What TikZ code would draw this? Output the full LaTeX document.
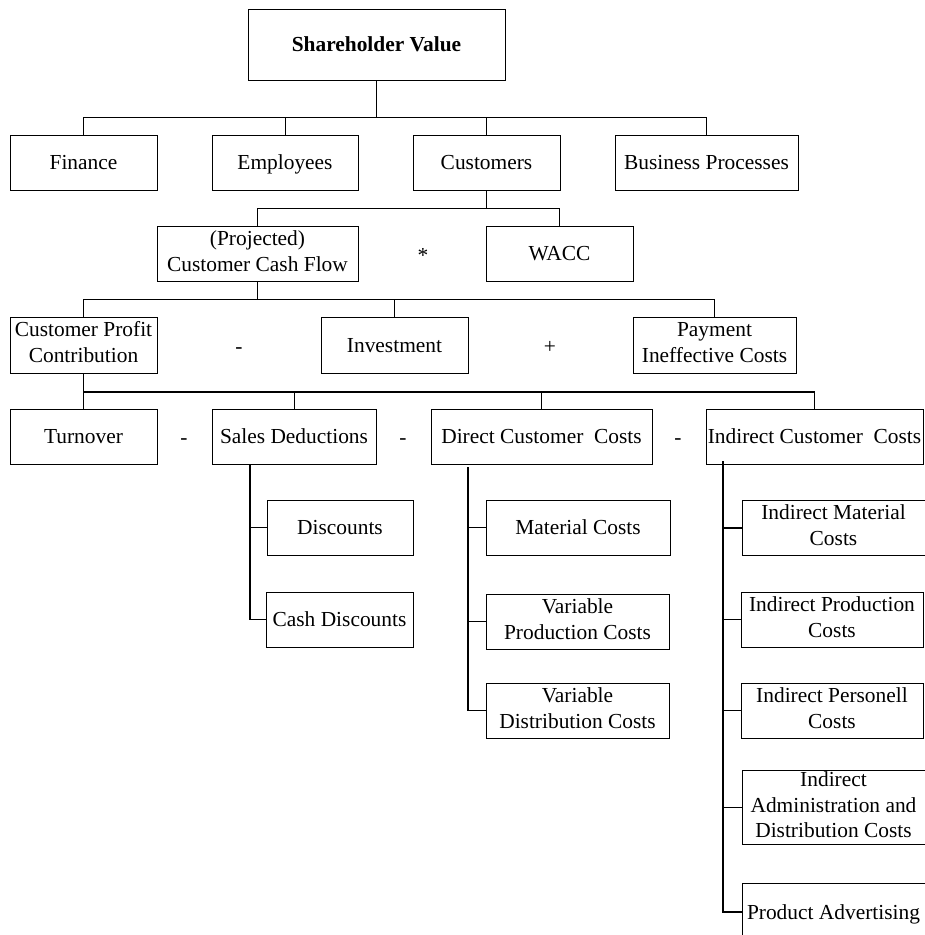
\documentclass[tikz,border=0pt]{standalone}
\usepackage{fontspec}
\setmainfont{Liberation Serif}
\newcommand{\bx}[7][box]{\node[#1, minimum width=#5pt-#3pt, minimum height=#6pt-#4pt] (#2) at ({(#3+#5)/2},{(#4+#6)/2}) {#7};}
\begin{document}
\begin{tikzpicture}[x=1pt,y=-1pt,
  txt/.style={inner sep=0pt, align=center, font=\fontsize{21.4}{25.7}\selectfont,
    execute at begin node=\rule{0pt}{19.5pt}, execute at end node=\rule[-5.5pt]{0pt}{5.5pt}},
  box/.style={txt, draw, line width=0.9pt},
  openbox/.style={txt},
  edge/.style={line width=0.9pt},
  stem/.style={line width=1.4pt},
  op/.style={txt}]
\useasboundingbox (0,0) rectangle (925,935);
\clip (0,0) rectangle (925,935);
% level 1-2
\bx{sv}{248}{9}{505}{80}{\textbf{Shareholder Value}}
\bx{fin}{10}{135}{157}{190}{Finance}
\bx{emp}{212}{135}{358}{190}{Employees}
\bx{cus}{413}{135}{560}{190}{Customers}
\bx{bp}{615}{135}{798}{190}{Business Processes}
% level 3
\bx{ccf}{157}{226}{358}{281}{(Projected)\\Customer Cash Flow}
\bx{wacc}{486}{226}{633}{281}{WACC}
% level 4
\bx{cpc}{10}{317}{157}{373}{Customer Profit\\Contribution}
\bx{inv}{321}{317}{468}{373}{Investment}
\bx{pay}{633}{317}{796}{373}{Payment\\Ineffective Costs}
% level 5
\bx{tur}{10}{409}{157}{464}{Turnover}
\bx{sd}{212}{409}{376}{464}{Sales Deductions}
\bx{dcc}{431}{409}{652}{464}{Direct Customer~ Costs}
\bx{icc}{706}{409}{923}{464}{Indirect Customer~ Costs}
% sub-children
\bx{disc}{267}{500}{413}{555}{Discounts}
\bx{cdisc}{266}{592}{413}{647}{Cash Discounts}
\bx{mat}{486}{500}{670}{555}{Material Costs}
\bx{vprod}{486}{594}{669}{649}{Variable\\Production Costs}
\bx{vdist}{486}{683}{669}{738}{Variable\\Distribution Costs}
\bx[openbox]{imat}{743}{501}{924}{555}{Indirect Material\\Costs}
\bx{iprod}{741}{592}{923}{647}{Indirect Production\\Costs}
\bx{ipers}{741}{683}{923}{738}{Indirect Personell\\Costs}
\bx[openbox]{iadm}{743}{771}{924}{844}{Indirect\\Administration and\\Distribution Costs}
\bx[openbox]{padv}{743}{884}{924}{940}{Product Advertising}
% open box borders (clipped at the right edge)
\draw[edge] ([xshift=10pt]imat.north east) -- (imat.north west) -- (imat.south west) -- ([xshift=10pt]imat.south east);
\draw[edge] ([xshift=10pt]iadm.north east) -- (iadm.north west) -- (iadm.south west) -- ([xshift=10pt]iadm.south east);
\draw[edge] ([xshift=10pt]padv.north east) -- (padv.north west) -- ([yshift=-10pt]padv.south west);
% operators
\node[op] (o1) at (423,255) {*};
\node[op] (o2) at (239,346) {-};
\node[op] (o3) at (550,346) {+};
\node[op] (o4) at (184,437) {-};
\node[op] (o5) at (403,437) {-};
\node[op] (o6) at (678,437) {-};
% bus coordinates
\coordinate (b1) at (376,117);
\coordinate (b2) at (486,208);
\coordinate (b3) at (257,299);
\coordinate (b4) at (84,392);
% level 1 -> 2
\draw[stem] (sv.south) -- (sv.south |- b1);
\draw[edge] (fin.north) |- (bp.north |- b1) -- (bp.north);
\draw[edge] (emp.north) -- (emp.north |- b1);
\draw[edge] (cus.north) -- (cus.north |- b1);
% customers -> level 3
\draw[stem] (cus.south) -- (cus.south |- b2);
\draw[edge] (ccf.north) |- (wacc.north |- b2) -- (wacc.north);
% ccf -> level 4
\draw[stem] (ccf.south) -- (ccf.south |- b3);
\draw[edge] (cpc.north) |- (pay.north |- b3) -- (pay.north);
\draw[edge] (inv.north) -- (inv.north |- b3);
% cpc -> level 5
\draw[stem] (cpc.south) -- (cpc.south |- b4);
\draw[stem] (cpc.south |- b4) -- (icc.north |- b4);
\draw[edge] (tur.north) -- (tur.north |- b4);
\draw[edge] (sd.north) -- (sd.north |- b4);
\draw[edge] (dcc.north) -- (dcc.north |- b4);
\draw[edge] (icc.north) -- (icc.north |- b4);
% sub-trees
\coordinate (s1) at (250,464);
\coordinate (s2) at (468,467);
\coordinate (s3) at (723,461);
\draw[stem] (s1) |- (cdisc.west);
\draw[stem] (disc.west) -- (disc.west -| s1);
\draw[stem] (s2) |- (vdist.west);
\draw[stem] (mat.west) -- (mat.west -| s2);
\draw[stem] (vprod.west) -- (vprod.west -| s2);
\draw[stem] (s3) |- (padv.west);
\draw[stem] (imat.west) -- (imat.west -| s3);
\draw[stem] (iprod.west) -- (iprod.west -| s3);
\draw[stem] (ipers.west) -- (ipers.west -| s3);
\draw[stem] (iadm.west) -- (iadm.west -| s3);
\end{tikzpicture}
\end{document}
